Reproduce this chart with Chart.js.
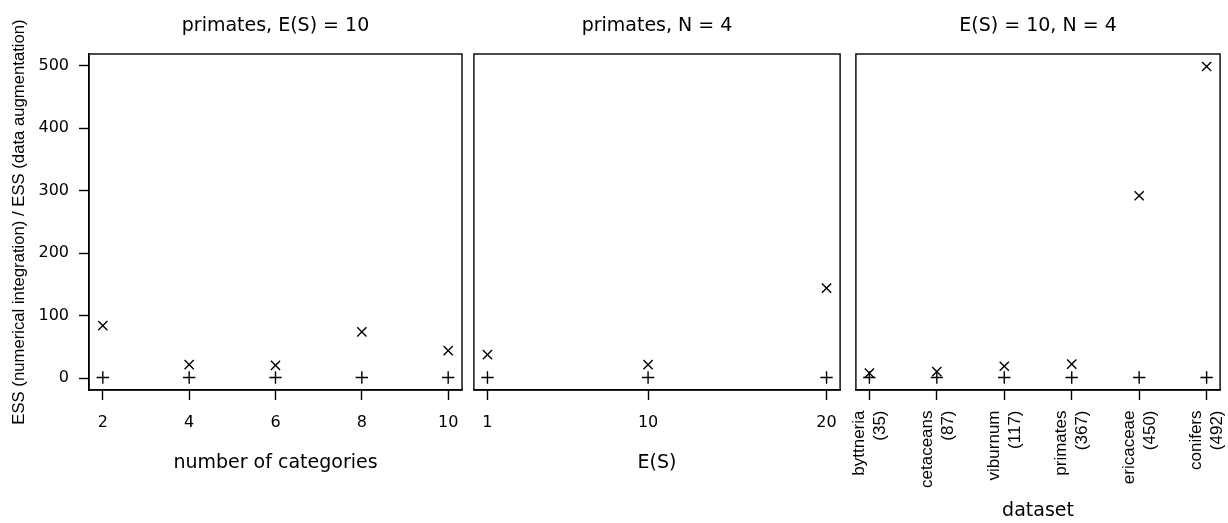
<!DOCTYPE html>
<html>
<head>
<meta charset="utf-8">
<script src="https://cdn.jsdelivr.net/npm/chart.js@4"></script>
<style>
  html, body { margin: 0; padding: 0; background: #fff; overflow: hidden; }
  .panel { position: absolute; top: 0; height: 523px; }
</style>
</head>
<body>
<div class="panel" style="left:0;width:470px"><canvas id="p1"></canvas></div>
<div class="panel" style="left:466px;width:382px"><canvas id="p2"></canvas></div>
<div class="panel" style="left:848px;width:380px"><canvas id="p3"></canvas></div>
<script>
// panel 1: primates, E(S) = 10
const numCategories = [2, 4, 6, 8, 10];
const ratioByCategories = [84, 21.6, 20.5, 74, 44];
const baseByCategories = [1, 1, 1, 1, 1];

// panel 2: primates, N = 4
const expectedS = [1, 10, 20];
const ratioByES = [37.6, 21.6, 144];
const baseByES = [1, 1, 1];

// panel 3: E(S) = 10, N = 4
const datasetNames = ["byttneria", "cetaceans", "viburnum", "primates", "ericaceae", "conifers"];
const datasetSizes = [35, 87, 117, 367, 450, 492];
const ratioByDataset = [8, 10.5, 19, 22.5, 292, 499];
const baseByDataset = [1, 1, 1, 1, 1, 1];

const yTicks = [0, 100, 200, 300, 400, 500];

const SANS = "'DejaVu Sans', sans-serif";
const ARIAL = "'Liberation Sans', Arial, sans-serif";

const boxPlugin = {
    id: "box",
    afterDatasetsDraw(chart) {
        const a = chart.chartArea;
        const ctx = chart.ctx;
        ctx.save();
        ctx.strokeStyle = "#000";
        ctx.lineWidth = 1.4;
        ctx.strokeRect(a.left, a.top, a.right - a.left, a.bottom - a.top);
        ctx.restore();
    },
};

function points(xs, ys) {
    return xs.map((x, i) => ({ x: x, y: ys[i] }));
}

function makePanel(id, cfg) {
    const xTicks = cfg.xTicks;
    new Chart(document.getElementById(id), {
        type: "scatter",
        data: {
            datasets: [
                {
                    data: points(xTicks, cfg.base),
                    pointStyle: "cross",
                    pointRadius: 6.2,
                    pointHoverRadius: 6.2,
                    borderColor: "#000",
                    backgroundColor: "#000",
                    pointBorderWidth: 1.4,
                },
                {
                    data: points(xTicks, cfg.ratio),
                    pointStyle: "crossRot",
                    pointRadius: 6.5,
                    pointHoverRadius: 6.5,
                    borderColor: "#000",
                    backgroundColor: "#000",
                    pointBorderWidth: 1.4,
                },
            ],
        },
        options: {
            responsive: true,
            maintainAspectRatio: false,
            animation: false,
            events: [],
            layout: { padding: { left: cfg.padLeft, right: cfg.padRight, top: 0, bottom: 0 } },
            plugins: {
                legend: { display: false },
                tooltip: { enabled: false },
                title: {
                    display: true,
                    text: cfg.title,
                    fullSize: false,
                    color: "#000",
                    font: { family: SANS, size: 19, weight: "normal", lineHeight: 1.2 },
                    padding: { top: 14.6, bottom: 16.6 },
                },
            },
            scales: {
                x: {
                    type: "linear",
                    min: cfg.xMin,
                    max: cfg.xMax,
                    afterBuildTicks: (scale) => {
                        scale.ticks = xTicks.map((v) => ({ value: v }));
                    },
                    afterFit: (scale) => {
                        scale.height = 133;
                        scale.paddingLeft = 0;
                        scale.paddingRight = 0;
                    },
                    grid: {
                        drawOnChartArea: false,
                        drawTicks: true,
                        tickLength: 10,
                        tickColor: "#000",
                        tickWidth: 1.4,
                    },
                    border: { display: true, color: "#000", width: 1.4 },
                    ticks: cfg.xTickOpts,
                    title: {
                        display: true,
                        text: cfg.xTitle,
                        color: "#000",
                        font: { family: SANS, size: 19, lineHeight: 1.2 },
                        padding: { top: 0, bottom: cfg.xTitlePad },
                    },
                },
                y: {
                    type: "linear",
                    display: cfg.showY,
                    min: -19,
                    max: 519,
                    afterBuildTicks: (scale) => {
                        scale.ticks = yTicks.map((v) => ({ value: v }));
                    },
                    afterFit: (scale) => {
                        if (cfg.showY) {
                            scale.width = 89;
                        }
                        scale.paddingTop = 0;
                        scale.paddingBottom = 0;
                    },
                    grid: {
                        drawOnChartArea: false,
                        drawTicks: true,
                        tickLength: 10,
                        tickColor: "#000",
                        tickWidth: 1.4,
                    },
                    border: { display: true, color: "#000", width: 1.4 },
                    ticks: {
                        color: "#000",
                        padding: 10,
                        font: { family: SANS, size: 16 },
                    },
                    title: {
                        display: true,
                        text: "ESS (numerical integration) / ESS (data augmentation)",
                        color: "#000",
                        font: { family: ARIAL, size: 16.7, lineHeight: 1.2 },
                        padding: { top: 9.5, bottom: 0 },
                    },
                },
            },
        },
        plugins: [boxPlugin],
    });
}

const numericTicks = {
    color: "#000",
    padding: 12.9,
    maxRotation: 0,
    autoSkip: false,
    font: { family: SANS, size: 16, lineHeight: 1.2 },
};

makePanel("p1", {
    title: "primates, E(S) = 10",
    xTitle: "number of categories",
    xTicks: numCategories,
    ratio: ratioByCategories,
    base: baseByCategories,
    xMin: 1.68,
    xMax: 10.32,
    padLeft: 0,
    padRight: 8,
    showY: true,
    xTitlePad: 48.6,
    xTickOpts: numericTicks,
});

makePanel("p2", {
    title: "primates, N = 4",
    xTitle: "E(S)",
    xTicks: expectedS,
    ratio: ratioByES,
    base: baseByES,
    xMin: 0.24,
    xMax: 20.76,
    padLeft: 6,
    padRight: 5,
    showY: false,
    xTitlePad: 48.6,
    xTickOpts: numericTicks,
});

makePanel("p3", {
    title: "E(S) = 10, N = 4",
    xTitle: "dataset",
    xTicks: datasetNames.map((_, i) => i + 1),
    ratio: ratioByDataset,
    base: baseByDataset,
    xMin: 0.8,
    xMax: 6.2,
    padLeft: 5,
    padRight: 2,
    showY: false,
    xTitlePad: 0.6,
    xTickOpts: {
        color: "#000",
        padding: 10.5,
        minRotation: 90,
        maxRotation: 90,
        autoSkip: false,
        labelOffset: -10,
        font: { family: ARIAL, size: 17, lineHeight: 1.235 },
        callback: (value) => {
            const i = Math.round(value) - 1;
            return [datasetNames[i], "(" + datasetSizes[i] + ")"];
        },
    },
});
</script>
</body>
</html>
